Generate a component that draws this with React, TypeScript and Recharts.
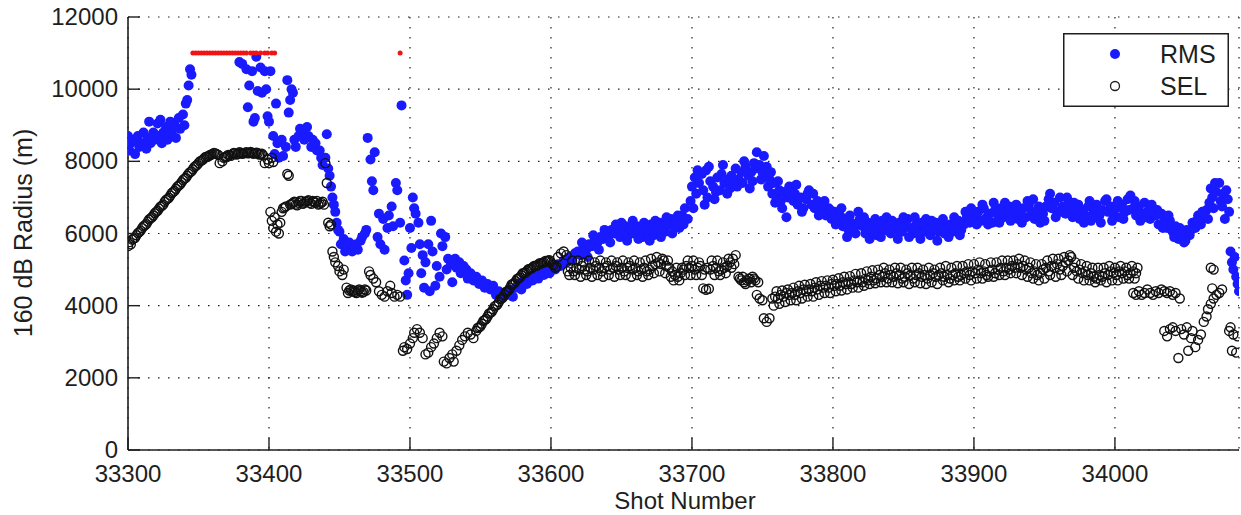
import React from "react";
import {
  CartesianGrid,
  Legend,
  Scatter,
  ScatterChart,
  XAxis,
  YAxis,
} from "recharts";

const FONT = "'Liberation Sans', Arial, Helvetica, sans-serif";
const INK = "#1e1e1e";
const BLUE = "#1a1aff";
const RED = "#f01414";

const xTicks = [33300, 33400, 33500, 33600, 33700, 33800, 33900, 34000];
const yTicks = [0, 2000, 4000, 6000, 8000, 10000, 12000];
const xDomain: [number, number] = [33300, 34088];
const yDomain: [number, number] = [0, 12000];

// RMS radius, [shot, metres]
const rmsPoints: [number, number][] = [
  [33300, 8700], [33301, 8300], [33302, 8500], [33304, 8600], [33305, 8200], [33307, 8700],
  [33308, 8400], [33310, 8500], [33311, 8800], [33313, 8350], [33314, 8650], [33315, 9100],
  [33316, 8500], [33318, 8800], [33319, 8600], [33321, 9050], [33322, 8700], [33323, 9150],
  [33324, 8500], [33325, 8800], [33327, 8950], [33328, 8600], [33330, 9100], [33331, 8800],
  [33333, 9000], [33334, 8650], [33336, 9200], [33337, 8900], [33339, 9300], [33340, 9000],
  [33341, 9600], [33342, 9700], [33343, 10100], [33344, 10550], [33345, 10400],
  [33379, 10750], [33381, 10700], [33384, 10550], [33385, 9500], [33386, 10100], [33388, 10500],
  [33389, 9100], [33390, 9200], [33391, 10900], [33392, 9950], [33394, 10600], [33395, 9900],
  [33397, 10500], [33398, 10000], [33399, 9250], [33400, 9100], [33401, 10500],
  [33403, 8700], [33404, 8200], [33405, 9600], [33406, 8500], [33407, 8100], [33409, 8600],
  [33410, 8150], [33412, 8400], [33413, 10250], [33414, 9350], [33415, 9700], [33416, 10000],
  [33417, 9900], [33418, 8600], [33419, 8400], [33421, 8700], [33422, 8900], [33424, 8800],
  [33425, 8600], [33427, 8950], [33428, 8700], [33430, 8400], [33431, 8600], [33433, 8500],
  [33434, 8300], [33436, 8300], [33437, 8100], [33438, 7900], [33440, 8100], [33441, 8750],
  [33442, 7800], [33443, 7600], [33444, 7300], [33445, 7000], [33446, 6800], [33447, 6600],
  [33448, 6300], [33449, 6100], [33450, 6050], [33451, 5700], [33453, 5850], [33454, 5500],
  [33456, 5600], [33457, 5750], [33459, 5500], [33460, 5650], [33462, 5700], [33463, 5550],
  [33465, 5800], [33466, 5900], [33468, 6000], [33469, 6100],
  [33470, 8650], [33472, 8050], [33473, 7450], [33474, 7200], [33475, 8250], [33477, 5900],
  [33478, 6550], [33479, 5700], [33481, 6400], [33482, 5550], [33484, 6150], [33485, 6500],
  [33487, 6750], [33488, 6200], [33490, 7400], [33491, 7200], [33493, 6300], [33494, 9550],
  [33496, 5250], [33497, 4700], [33498, 4300], [33499, 4900], [33500, 6150], [33501, 5600],
  [33502, 7000], [33503, 6700], [33504, 6550], [33506, 6300], [33507, 5700], [33508, 4900],
  [33509, 5400], [33510, 4500], [33511, 5200], [33513, 5700], [33514, 4400], [33515, 6350],
  [33516, 5500], [33518, 4550], [33519, 5100], [33521, 4800], [33522, 6000], [33523, 5650],
  [33525, 5900], [33526, 5000], [33527, 5300], [33529, 5150], [33530, 4650], [33532, 5300],
  [33533, 5050], [33535, 5200], [33536, 4900], [33538, 5100], [33540, 5000], [33541, 4750],
  [33543, 4900], [33545, 4700], [33547, 4800], [33549, 4600], [33551, 4700], [33553, 4500],
  [33555, 4600], [33557, 4450], [33559, 4550], [33561, 4300], [33563, 4400], [33565, 4250],
  [33567, 4350], [33569, 4300], [33571, 4450], [33573, 4250], [33575, 4500], [33577, 4600],
  [33579, 4450], [33581, 4700], [33583, 4600], [33585, 4800], [33587, 4700], [33589, 4850],
  [33591, 4750], [33593, 4900], [33595, 4850], [33597, 5000], [33599, 4900], [33601, 5050],
  [33603, 5000], [33605, 5150], [33607, 5100], [33609, 5250], [33611, 5200], [33613, 5350],
  [33615, 5300], [33617, 5450], [33619, 5500], [33621, 5400], [33623, 5600], [33625, 5550],
  [33627, 5700], [33629, 5650], [33631, 5800], [33633, 5750], [33635, 5900], [33637, 5850],
  [33639, 6000], [33641, 5950], [33643, 6100], [33645, 6000], [33647, 6150], [33649, 5900],
  [33651, 6050], [33653, 6200], [33655, 5950], [33657, 6100], [33659, 6000], [33661, 6200],
  [33663, 6050], [33665, 5900], [33667, 6150], [33669, 6050], [33671, 6250], [33673, 5950],
  [33675, 6100], [33677, 6300], [33679, 6150], [33681, 6050], [33683, 6250], [33685, 6400],
  [33687, 6200], [33689, 6350], [33691, 6150], [33693, 6500], [33695, 6700], [33697, 6400],
  [33699, 6900], [33700, 7300], [33702, 7550], [33703, 7100], [33705, 7400], [33707, 7650],
  [33708, 7200], [33710, 7750], [33711, 7000], [33713, 7450], [33715, 7300], [33716, 6950],
  [33718, 7550], [33720, 7200], [33721, 7650], [33723, 7400], [33725, 7100], [33726, 7500],
  [33728, 7600], [33730, 7350], [33731, 7800], [33733, 7500], [33735, 7700], [33736, 7400],
  [33738, 7850], [33740, 7600], [33742, 7700], [33743, 7450], [33745, 7800], [33746, 8250],
  [33748, 7900], [33750, 7700], [33751, 8150], [33752, 7600], [33754, 7300], [33755, 7500],
  [33757, 7100], [33758, 7400], [33760, 7000], [33762, 7200], [33763, 6900], [33765, 7150],
  [33767, 6450], [33768, 7000], [33770, 7200], [33772, 6900], [33773, 7100], [33775, 6800],
  [33777, 7000], [33779, 6700], [33781, 6950], [33783, 7200], [33785, 6800], [33787, 6700],
  [33789, 6900], [33791, 6600], [33793, 6750], [33795, 6500], [33797, 6700], [33799, 6400],
  [33801, 6600], [33803, 6350], [33805, 6500], [33807, 6200], [33809, 6400], [33811, 6100],
  [33813, 6300], [33815, 6050], [33817, 6250], [33819, 6400], [33810, 5900],
  [33821, 6200], [33823, 6000], [33825, 6300], [33827, 6100], [33829, 6250], [33831, 5950],
  [33833, 6150], [33835, 6350], [33837, 6100], [33839, 6200], [33841, 6000], [33843, 6250],
  [33845, 6100], [33847, 6300], [33849, 6050], [33851, 6200], [33853, 6400], [33855, 6150],
  [33857, 6000], [33859, 6250], [33861, 6100], [33863, 6300], [33865, 6050], [33867, 6200],
  [33869, 5950], [33871, 6150], [33873, 6300], [33875, 6050], [33877, 6200], [33879, 6000],
  [33881, 6150], [33883, 6250], [33885, 6050], [33887, 6200], [33889, 6350], [33891, 6100],
  [33893, 6250], [33895, 6450], [33897, 6300], [33899, 6550], [33901, 6400], [33903, 6600],
  [33905, 6350], [33907, 6700], [33909, 6450], [33911, 6550], [33913, 6300], [33915, 6650],
  [33917, 6500], [33919, 6700], [33921, 6450], [33923, 6600], [33925, 6750], [33927, 6500],
  [33929, 6600], [33931, 6400], [33933, 6550], [33935, 6700], [33937, 6450], [33939, 6800],
  [33941, 6600], [33943, 6400], [33945, 6500], [33947, 6300], [33949, 6550], [33951, 6750],
  [33953, 6950], [33955, 6700], [33957, 6850], [33959, 6600], [33961, 7000], [33963, 6750],
  [33965, 6550], [33967, 6900], [33969, 6700], [33971, 6850], [33973, 6550], [33975, 6400],
  [33977, 6650], [33979, 6500], [33981, 6750], [33983, 6350], [33985, 6600], [33987, 6800],
  [33989, 6500], [33991, 6650], [33993, 6900], [33995, 6600], [33997, 6750], [33999, 6500],
  [34001, 6700], [34003, 6450], [34005, 6800], [34007, 6600], [34009, 6950], [34011, 7050],
  [34013, 6700], [34015, 6500], [34017, 6750], [34019, 6550], [34021, 6850], [34023, 6600],
  [34025, 6400], [34027, 6700], [34029, 6500], [34031, 6250], [34033, 6550], [34035, 6400],
  [34037, 6150], [34039, 6350], [34041, 6050], [34043, 6200], [34045, 5850], [34047, 6000],
  [34049, 5750], [34051, 6100], [34053, 5950], [34055, 6300], [34057, 6150], [34059, 6500],
  [34061, 6250], [34063, 6450], [34065, 6650], [34067, 6850], [34069, 7000], [34070, 6700],
  [34072, 7150], [34074, 7400], [34075, 6900], [34077, 7100], [34078, 6400], [34080, 6950],
  [34081, 6600], [34082, 5500], [34083, 5200], [34084, 5000], [34085, 5350], [34086, 4800],
  [34087, 4600], [34088, 4400],
];

// more RMS shots where the band is thick
const rmsPointsB: [number, number][] = [
  [33622, 5750], [33626, 5350], [33630, 5950], [33634, 5550], [33638, 6100], [33642, 5750],
  [33646, 6250], [33650, 6300], [33654, 5800], [33658, 6350], [33662, 5850], [33666, 6300],
  [33670, 5800], [33674, 6350], [33678, 5900], [33682, 6450], [33686, 6000], [33690, 6500],
  [33694, 6250], [33701, 6700], [33704, 7750], [33709, 6800], [33712, 7850], [33717, 7150],
  [33722, 7900], [33727, 7250], [33732, 7300], [33737, 8000], [33741, 7250], [33744, 7950],
  [33749, 7500], [33753, 7850], [33756, 7700], [33759, 6850], [33761, 7450], [33764, 6700],
  [33769, 7300], [33774, 7350], [33778, 6600], [33782, 7100], [33786, 7100], [33790, 6500],
  [33794, 6900], [33798, 6650], [33802, 6250], [33806, 6700], [33812, 6500], [33816, 6000],
  [33818, 6600], [33822, 6450], [33826, 5850], [33830, 6400], [33834, 5900], [33838, 6450],
  [33842, 6350], [33846, 5850], [33850, 6450], [33854, 5900], [33858, 6450], [33862, 5850],
  [33866, 6400], [33870, 6350], [33874, 5800], [33878, 6400], [33882, 5900], [33886, 6450],
  [33890, 5950], [33894, 6600], [33898, 6700], [33902, 6250], [33906, 6800], [33910, 6250],
  [33914, 6850], [33918, 6300], [33922, 6850], [33926, 6350], [33930, 6800], [33934, 6300],
  [33938, 6900], [33942, 6950], [33946, 6750], [33950, 6350], [33954, 7100], [33958, 6450],
  [33962, 6600], [33966, 7000], [33970, 6450], [33974, 6800], [33978, 6300], [33982, 6900],
  [33986, 6450], [33990, 6300], [33994, 6950], [33998, 6350], [34002, 6900], [34006, 6400],
  [34010, 6650], [34014, 6900], [34018, 6350], [34022, 6450], [34026, 6800], [34030, 6650],
  [34034, 6150], [34038, 6500], [34042, 5900], [34046, 6150], [34050, 5800], [34054, 6100],
  [34058, 6350], [34062, 6600], [34066, 6400], [34068, 7250], [34071, 7400], [34076, 6750],
  [34079, 7200],
];

// SEL radius, [shot, metres]
const selPoints: [number, number][] = [
  [33300, 5650], [33301, 5760], [33302, 5700], [33304, 5860], [33306, 5950], [33308, 6040],
  [33310, 6150], [33312, 6230], [33314, 6330], [33316, 6420], [33318, 6500], [33320, 6600],
  [33322, 6690], [33324, 6770], [33326, 6880], [33328, 6960], [33330, 7050], [33332, 7150],
  [33334, 7240], [33336, 7330], [33338, 7420], [33340, 7520], [33342, 7600], [33344, 7700],
  [33346, 7780], [33348, 7870], [33350, 7950], [33352, 8020], [33354, 8080], [33356, 8130],
  [33358, 8170], [33360, 8200], [33362, 8220], [33364, 8180], [33365, 7950], [33367, 8000],
  [33368, 8100], [33370, 8140], [33372, 8170], [33374, 8200], [33376, 8220], [33378, 8210],
  [33380, 8240], [33382, 8220], [33384, 8250], [33386, 8230], [33388, 8240], [33390, 8220],
  [33392, 8230], [33394, 8200], [33396, 8160], [33397, 7950], [33399, 8050], [33400, 7950],
  [33402, 8100], [33403, 7980],
  [33401, 6600], [33402, 6350], [33403, 6150], [33404, 6450], [33405, 6050], [33406, 6250],
  [33407, 6000], [33408, 6300], [33409, 6600],
  [33410, 6700], [33412, 6750], [33413, 7650], [33414, 7600], [33415, 6800], [33417, 6850],
  [33419, 6800], [33421, 6850], [33423, 6900], [33425, 6850], [33427, 6900], [33429, 6850],
  [33431, 6900], [33433, 6850], [33435, 6800], [33437, 6850], [33439, 6800],
  [33440, 7950], [33441, 7400], [33442, 6300], [33443, 6200], [33444, 6250], [33445, 5500],
  [33446, 5350], [33447, 5200], [33449, 5100], [33450, 4950], [33452, 4850], [33453, 5000],
  [33455, 4500], [33457, 4420], [33459, 4400], [33461, 4380], [33463, 4420], [33465, 4400],
  [33467, 4380], [33469, 4420], [33471, 4950], [33472, 4850], [33474, 4750], [33476, 4650],
  [33478, 4400], [33480, 4300], [33482, 4250], [33484, 4400], [33486, 4550], [33487, 4350],
  [33489, 4250], [33491, 4300], [33493, 4250],
  [33495, 2750], [33496, 2850], [33498, 2800], [33500, 2950], [33502, 3100], [33503, 3250],
  [33505, 3350], [33507, 3250], [33509, 3100],
  [33511, 2650], [33513, 2700], [33515, 2850], [33517, 2950], [33519, 3100], [33521, 3250],
  [33523, 3150],
  [33524, 2450], [33526, 2400], [33528, 2550], [33530, 2650], [33531, 2450], [33533, 2750],
  [33535, 2900], [33537, 3050], [33539, 3150], [33541, 3250], [33543, 3200], [33545, 3100],
  [33547, 3300], [33549, 3400], [33551, 3500], [33553, 3600], [33555, 3700], [33557, 3800],
  [33559, 3900], [33561, 4000], [33563, 4100], [33565, 4200], [33567, 4300], [33569, 4400],
  [33571, 4500], [33573, 4600], [33575, 4680], [33577, 4760], [33579, 4840], [33581, 4900],
  [33583, 4960], [33585, 5020], [33587, 5060], [33589, 5100], [33591, 5140], [33593, 5170],
  [33595, 5200], [33597, 5230], [33599, 5260], [33601, 5150], [33603, 5050], [33605, 5350],
  [33607, 5450], [33609, 5500], [33611, 5400], [33612, 4950],
  [33614, 5050], [33616, 4950], [33618, 5050], [33620, 5000], [33622, 5100], [33624, 5000],
  [33626, 4950], [33628, 5050], [33630, 5000], [33632, 5100], [33634, 5050], [33636, 4950],
  [33638, 5050], [33640, 5100], [33642, 5000], [33644, 5050], [33646, 5100], [33648, 5000],
  [33650, 5050], [33652, 4950], [33654, 5050], [33656, 5100], [33658, 5000], [33660, 5050],
  [33662, 4950], [33664, 5000], [33666, 5050], [33668, 4950], [33670, 5000], [33672, 5100],
  [33674, 5150], [33676, 5200], [33678, 5150], [33680, 5250], [33682, 5100], [33684, 5050],
  [33686, 4950], [33688, 4850], [33690, 4800], [33692, 4900], [33694, 5000], [33696, 5100],
  [33698, 5050], [33700, 5100], [33702, 5000], [33704, 5050], [33706, 5100], [33708, 4480],
  [33710, 4440], [33712, 4470], [33709, 5000], [33711, 5050], [33713, 5000], [33715, 5100],
  [33717, 5050], [33719, 4950], [33721, 5000], [33723, 5050], [33725, 5100], [33727, 5200],
  [33729, 5300], [33731, 5400],
  [33733, 4800], [33735, 4700], [33737, 4650], [33739, 4700], [33741, 4750], [33743, 4800],
  [33745, 4700], [33747, 4650], [33746, 4300], [33748, 4200], [33750, 4150], [33751, 3650],
  [33753, 3550], [33755, 3650],
  [33757, 4200], [33759, 4250], [33761, 4200], [33763, 4300], [33765, 4250], [33767, 4350],
  [33769, 4300], [33771, 4350], [33773, 4300], [33775, 4400], [33777, 4350], [33779, 4450],
  [33781, 4400], [33783, 4450], [33785, 4400], [33787, 4500], [33789, 4450], [33791, 4550],
  [33793, 4500], [33795, 4550], [33797, 4500], [33799, 4600], [33801, 4550], [33803, 4600],
  [33805, 4550], [33807, 4650], [33809, 4600], [33811, 4650], [33813, 4600], [33815, 4700],
  [33817, 4650], [33819, 4700], [33821, 4650], [33823, 4750], [33825, 4700], [33827, 4800],
  [33829, 4700], [33831, 4750], [33833, 4850], [33835, 4800], [33837, 4900], [33839, 4750],
  [33841, 4850], [33843, 4800], [33845, 4900], [33847, 4850], [33849, 4750], [33851, 4800],
  [33853, 4900], [33855, 4850], [33857, 4750], [33859, 4850], [33861, 4900], [33863, 4800],
  [33865, 4850], [33867, 4750], [33869, 4850], [33871, 4900], [33873, 4800], [33875, 4850],
  [33877, 4900], [33879, 4800], [33881, 4850], [33883, 4750], [33885, 4850], [33887, 4900],
  [33889, 4800], [33891, 4850], [33893, 4900], [33895, 4950], [33897, 4850], [33899, 4950],
  [33901, 4900], [33903, 5000], [33905, 4900], [33907, 4950], [33909, 4850], [33911, 4950],
  [33913, 5000], [33915, 4900], [33917, 5000], [33919, 5050], [33921, 4950], [33923, 5050],
  [33925, 5000], [33927, 5100], [33929, 5050], [33931, 5150], [33933, 5050], [33935, 5100],
  [33937, 5000], [33939, 5050], [33941, 4900], [33943, 4950], [33945, 4850], [33947, 4900],
  [33949, 5000], [33951, 5050], [33953, 4950], [33955, 5100], [33957, 5050], [33959, 5150],
  [33961, 5000], [33963, 5100], [33965, 5200], [33967, 5250], [33969, 5350], [33971, 5050],
  [33973, 4950], [33975, 5000], [33977, 4900], [33979, 4950], [33981, 4850], [33983, 4900],
  [33985, 4800], [33987, 4750], [33989, 4850], [33991, 4800], [33993, 4900], [33995, 4850],
  [33997, 4950], [33999, 4900], [34001, 4850], [34003, 4950], [34005, 4900], [34007, 4950],
  [34009, 4850], [34011, 4900], [34013, 4950], [34015, 4900],
  [34013, 4350], [34015, 4300], [34017, 4400], [34019, 4300], [34021, 4350], [34023, 4450],
  [34025, 4350], [34027, 4300], [34029, 4400], [34031, 4350], [34033, 4450], [34035, 4400],
  [34037, 4350], [34039, 4400], [34041, 4300], [34043, 4350], [34046, 4200],
  [34035, 3300], [34037, 3150], [34039, 3350], [34041, 3400], [34043, 3300], [34045, 2550],
  [34047, 3350], [34049, 3200], [34051, 3400], [34052, 2750], [34054, 3100], [34055, 3300],
  [34057, 2850], [34059, 3050], [34061, 3200],
  [34063, 3550], [34065, 3700], [34066, 3900], [34068, 4050], [34069, 4480], [34070, 4200],
  [34072, 4300], [34074, 4350], [34076, 4450], [34068, 5050], [34070, 5000],
  [34081, 3300], [34082, 3400], [34083, 2750], [34084, 3200], [34086, 2700], [34087, 3150],
];

// more SEL shots where the band is solid
const selPointsB: [number, number][] = [
  [33303, 5830], [33305, 5880], [33307, 6010], [33309, 6080], [33311, 6200], [33313, 6260],
  [33315, 6390], [33317, 6450], [33319, 6560], [33321, 6630], [33323, 6740], [33325, 6800],
  [33327, 6930], [33329, 6990], [33331, 7120], [33333, 7180], [33335, 7300], [33337, 7360],
  [33339, 7480], [33341, 7540], [33343, 7660], [33345, 7720], [33347, 7840], [33349, 7900],
  [33351, 8000], [33353, 8040], [33355, 8120], [33357, 8140], [33359, 8190], [33361, 8230],
  [33363, 8200], [33369, 8120], [33371, 8180], [33373, 8150], [33375, 8230], [33377, 8190],
  [33379, 8250], [33381, 8210], [33383, 8240], [33385, 8220], [33387, 8260], [33389, 8210],
  [33391, 8240], [33393, 8190], [33395, 8210],
  [33411, 6720], [33416, 6820], [33418, 6880], [33420, 6780], [33422, 6900], [33424, 6820],
  [33426, 6880], [33428, 6920], [33430, 6820], [33432, 6880], [33434, 6900], [33436, 6820],
  [33438, 6880],
  [33456, 4350], [33458, 4450], [33460, 4420], [33462, 4350], [33464, 4450], [33466, 4360],
  [33468, 4450],
  [33548, 3380], [33550, 3430], [33552, 3580], [33554, 3630], [33556, 3780], [33558, 3830],
  [33560, 3980], [33562, 4030], [33564, 4180], [33566, 4230], [33568, 4380], [33570, 4430],
  [33572, 4580], [33574, 4620], [33576, 4740], [33578, 4780], [33580, 4900], [33582, 4920],
  [33584, 5010], [33586, 5030], [33588, 5100], [33590, 5110], [33592, 5180], [33594, 5190],
  [33596, 5240], [33598, 5250], [33600, 5200], [33602, 5120], [33604, 5080],
  [33613, 4850], [33615, 5250], [33617, 4850], [33619, 5250], [33621, 4800], [33623, 5200],
  [33625, 4850], [33627, 5250], [33629, 4800], [33631, 5200], [33633, 4850], [33635, 5250],
  [33637, 4800], [33639, 5200], [33641, 4850], [33643, 5250], [33645, 4800], [33647, 5200],
  [33649, 4850], [33651, 5250], [33653, 4850], [33655, 5200], [33657, 4800], [33659, 5250],
  [33661, 4850], [33663, 5200], [33665, 4800], [33667, 5250], [33669, 4850], [33671, 5300],
  [33673, 4900], [33675, 5350], [33677, 4950], [33679, 5300], [33681, 4900], [33683, 5250],
  [33685, 4800], [33687, 4700], [33689, 5050], [33691, 4700], [33693, 5050], [33695, 4850],
  [33697, 5250], [33699, 4850], [33701, 5250], [33703, 4850], [33705, 5200], [33707, 4850],
  [33714, 5250], [33716, 4850], [33718, 5250], [33720, 4850], [33722, 5200], [33724, 4900],
  [33726, 5300], [33728, 5050], [33730, 5150],
  [33734, 4750], [33736, 4800], [33738, 4600], [33740, 4750], [33742, 4650], [33744, 4750],
  [33758, 4000], [33760, 4400], [33762, 4050], [33764, 4420], [33766, 4100], [33768, 4450],
  [33770, 4150], [33772, 4500], [33774, 4150], [33776, 4550], [33778, 4200], [33780, 4580],
  [33782, 4250], [33784, 4600], [33786, 4250], [33788, 4650], [33790, 4300], [33792, 4680],
  [33794, 4350], [33796, 4700], [33798, 4350], [33800, 4720], [33802, 4400], [33804, 4760],
  [33806, 4420], [33808, 4800], [33810, 4450], [33812, 4820], [33814, 4500], [33816, 4880],
  [33818, 4500], [33820, 4900], [33822, 4550], [33824, 4950], [33826, 4600], [33828, 4980],
  [33830, 4620], [33832, 5000], [33834, 4650], [33836, 5050], [33838, 4650], [33840, 5000],
  [33842, 4650], [33844, 5050], [33846, 4620], [33848, 5050], [33850, 4650], [33852, 5000],
  [33854, 4600], [33856, 5050], [33858, 4650], [33860, 5050], [33862, 4620], [33864, 5000],
  [33866, 4600], [33868, 5050], [33870, 4650], [33872, 5000], [33874, 4600], [33876, 5050],
  [33878, 4700], [33880, 5100], [33882, 4650], [33884, 5050], [33886, 4700], [33888, 5100],
  [33890, 4700], [33892, 5100], [33894, 4750], [33896, 5150], [33898, 4700], [33900, 5150],
  [33902, 4750], [33904, 5200], [33906, 4750], [33908, 5150], [33910, 4800], [33912, 5200],
  [33914, 4800], [33916, 5200], [33918, 4850], [33920, 5250], [33922, 4850], [33924, 5250],
  [33926, 4900], [33928, 5250], [33930, 4900], [33932, 5300], [33934, 4850], [33936, 5250],
  [33938, 4800], [33940, 5200], [33942, 4750], [33944, 5150], [33946, 4700], [33948, 5150],
  [33950, 4750], [33952, 5250], [33954, 4850], [33956, 5300], [33958, 4800], [33960, 5300],
  [33962, 4850], [33964, 5350], [33966, 4950], [33968, 5400], [33970, 4850], [33972, 5200],
  [33974, 4750], [33976, 5150], [33978, 4700], [33980, 5100], [33982, 4700], [33984, 5050],
  [33986, 4650], [33988, 5050], [33990, 4700], [33992, 5050], [33994, 4650], [33996, 5100],
  [33998, 4700], [34000, 5050], [34002, 4700], [34004, 5100], [34006, 4750], [34008, 5050],
  [34010, 4750], [34012, 5100], [34014, 4750], [34016, 5050],
];

// shots where the RMS radius ran past the model limit
const clipValue = 11000;
const clippedShots = [
  33346, 33348, 33350, 33352, 33354, 33356, 33358, 33360, 33362, 33364, 33366, 33368,
  33370, 33372, 33374, 33376, 33378, 33380, 33382, 33384, 33387, 33389, 33391, 33394,
  33397, 33399, 33402, 33404, 33493,
];

const rmsData = [...rmsPoints, ...rmsPointsB].map(([x, y]) => ({ x, y }));
const selData = [...selPoints, ...selPointsB].map(([x, y]) => ({ x, y }));
const clipData = clippedShots.map((x) => ({ x, y: clipValue }));

const RmsDot = (p: any) => <circle cx={p.cx} cy={p.cy} r={5} fill={BLUE} />;
const SelDot = (p: any) => (
  <circle cx={p.cx} cy={p.cy} r={4.5} fill="none" stroke="#111" strokeWidth={1.4} />
);
const ClipDot = (p: any) => <circle cx={p.cx} cy={p.cy} r={2.5} fill={RED} />;

const tickLine = { stroke: INK, strokeWidth: 1.4 };

function BottomTick({ x, y, payload }: any) {
  return (
    <g>
      <line x1={x} y1={y} x2={x} y2={y - 12} {...tickLine} />
      <text x={x} y={y + 32} textAnchor="middle" fontSize={24} fontFamily={FONT} fill={INK}>
        {payload.value}
      </text>
    </g>
  );
}

function TopTick({ x, y }: any) {
  return <line x1={x} y1={y} x2={x} y2={y + 12} {...tickLine} />;
}

function LeftTick({ x, y, payload }: any) {
  return (
    <g>
      <line x1={x} y1={y} x2={x + 12} y2={y} {...tickLine} />
      <text x={x - 10} y={y + 8} textAnchor="end" fontSize={24} fontFamily={FONT} fill={INK}>
        {payload.value}
      </text>
    </g>
  );
}

function RightTick({ x, y }: any) {
  return <line x1={x} y1={y} x2={x - 12} y2={y} {...tickLine} />;
}

const xTitle = () => (
  <text x={685} y={509} textAnchor="middle" fontSize={24} fontFamily={FONT} fill={INK}>
    Shot Number
  </text>
);

const yTitle = () => (
  <text
    x={32}
    y={233}
    transform="rotate(-90 32 233)"
    textAnchor="middle"
    fontSize={25}
    fontFamily={FONT}
    fill={INK}
  >
    160 dB Radius (m)
  </text>
);

const legendBox = () => (
  <svg width={166} height={74} style={{ display: "block" }}>
    <rect x={0.75} y={0.75} width={164.5} height={72.5} fill="#fff" stroke={INK} strokeWidth={1.5} />
    <circle cx={52} cy={21} r={5} fill={BLUE} />
    <text x={97} y={30} fontSize={25} fontFamily={FONT} fill={INK}>
      RMS
    </text>
    <circle cx={52} cy={53} r={4.5} fill="none" stroke={INK} strokeWidth={1.3} />
    <text x={97} y={62} fontSize={25} fontFamily={FONT} fill={INK}>
      SEL
    </text>
  </svg>
);

export default function App() {
  return (
    <div style={{ position: "absolute", left: 0, top: 0, background: "#fff" }}>
      <ScatterChart
        width={1241}
        height={515}
        margin={{ top: 17, right: 2, bottom: 0, left: 0 }}
      >
        <CartesianGrid stroke={INK} strokeWidth={1.2} strokeDasharray="1.5 8.5" />
        <XAxis
          xAxisId={0}
          dataKey="x"
          type="number"
          domain={xDomain}
          allowDataOverflow
          ticks={xTicks}
          interval={0}
          height={65}
          tickSize={0}
          tickMargin={0}
          tick={<BottomTick />}
          axisLine={{ stroke: INK, strokeWidth: 1.6 }}
          tickLine={false}
          label={{ content: xTitle }}
        />
        <XAxis
          xAxisId="top"
          orientation="top"
          dataKey="x"
          type="number"
          domain={xDomain}
          allowDataOverflow
          ticks={xTicks}
          interval={0}
          height={0}
          tickSize={0}
          tickMargin={0}
          tick={<TopTick />}
          axisLine={{ stroke: INK, strokeWidth: 1.4 }}
          tickLine={false}
        />
        <YAxis
          yAxisId={0}
          dataKey="y"
          type="number"
          domain={yDomain}
          allowDataOverflow
          ticks={yTicks}
          interval={0}
          width={128}
          tickSize={0}
          tickMargin={0}
          tick={<LeftTick />}
          axisLine={{ stroke: INK, strokeWidth: 1.6 }}
          tickLine={false}
          label={{ content: yTitle }}
        />
        <YAxis
          yAxisId="right"
          orientation="right"
          dataKey="y"
          type="number"
          domain={yDomain}
          allowDataOverflow
          ticks={yTicks}
          interval={0}
          width={0}
          tickSize={0}
          tickMargin={0}
          tick={<RightTick />}
          axisLine={{ stroke: INK, strokeWidth: 1.4 }}
          tickLine={false}
        />
        <Legend
          layout="vertical"
          align="center"
          verticalAlign="middle"
          content={legendBox}
          wrapperStyle={{ left: 1063, top: 33, width: 166, height: 74 }}
        />
        <Scatter name="RMS" data={rmsData} shape={RmsDot} isAnimationActive={false} />
        <Scatter name="SEL" data={selData} shape={SelDot} isAnimationActive={false} />
        <Scatter name="clipped" data={clipData} shape={ClipDot} isAnimationActive={false} legendType="none" />
      </ScatterChart>
    </div>
  );
}
